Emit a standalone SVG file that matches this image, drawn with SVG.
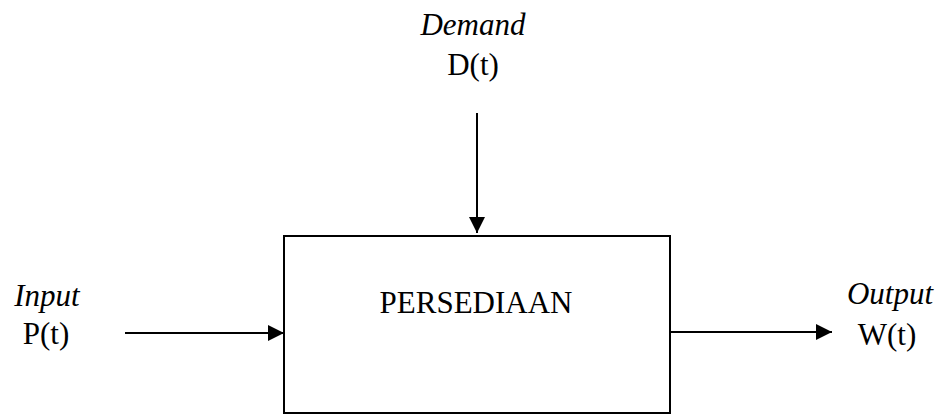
<svg xmlns="http://www.w3.org/2000/svg" width="940" height="414" viewBox="0 0 940 414">
<style>
text{font-family:"Liberation Serif","Times New Roman",serif;font-size:31px;fill:#000;text-anchor:middle}
.it{font-style:italic}
.ln{stroke:#000;stroke-width:2;fill:none}
</style>
<defs>
<marker id="ah" markerUnits="userSpaceOnUse" markerWidth="16" markerHeight="16" viewBox="0 0 16 16" refX="16" refY="8" orient="auto">
<path d="M0,0 L16,8 L0,16 Z" fill="#000"/>
</marker>
</defs>
<rect width="940" height="414" fill="#fff"/>
<g id="box">
<rect x="284" y="236" width="386" height="177" class="ln"/>
<text x="476" y="313">PERSEDIAAN</text>
</g>
<g id="demand">
<text class="it" x="473" y="35">Demand</text>
<text x="473" y="75">D(t)</text>
</g>
<g id="input">
<text class="it" x="47" y="306">Input</text>
<text x="46" y="344">P(t)</text>
</g>
<g id="output">
<text class="it" x="890" y="304">Output</text>
<text x="887" y="345">W(t)</text>
</g>
<g id="connectors">
<line x1="477" y1="113" x2="477" y2="233" class="ln" marker-end="url(#ah)"/>
<line x1="125" y1="333" x2="284" y2="333" class="ln" marker-end="url(#ah)"/>
<line x1="670" y1="332" x2="832" y2="332" class="ln" marker-end="url(#ah)"/>
</g>
</svg>
